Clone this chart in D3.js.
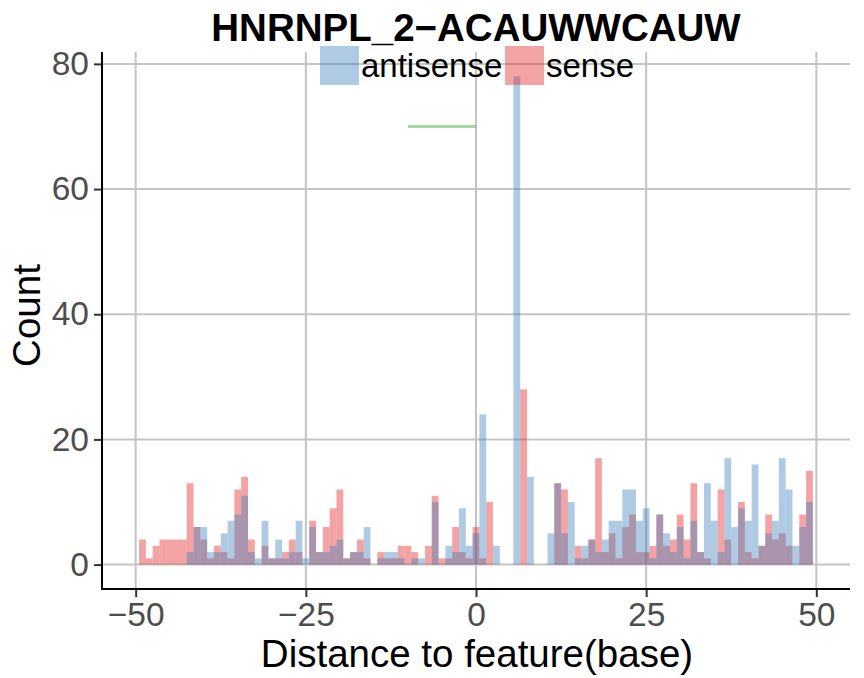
<!DOCTYPE html>
<html>
<head>
<meta charset="utf-8">
<script src="https://cdn.jsdelivr.net/npm/d3@7"></script>
<style>
  html, body { margin: 0; padding: 0; background: #ffffff; }
  svg { display: block; font-family: "Liberation Sans", Arial, Helvetica, sans-serif; }
</style>
</head>
<body>
<svg id="chart" width="864" height="678"></svg>
<script>
// ---- data ----
const titleText = "HNRNPL_2\u2212ACAUWWCAUW";
const xTitle = "Distance to feature(base)";
const yTitle = "Count";
const seriesNames = ["antisense", "sense"];
const positions = d3.range(-49, 50); // bin centres (1 base bins)
const senseCounts = [
  4, 1, 3, 4, 4, 4, 4, 13, 6, 4,      // -49..-40
  1, 3, 2, 1, 12, 14, 4, 0, 3, 1,     // -39..-30
  1, 2, 4, 2, 0, 7, 2, 6, 9, 12,      // -29..-20
  1, 2, 4, 1, 0, 2, 1, 1, 3, 3,       // -19..-10
  2, 0, 3, 11, 1, 1, 6, 2, 1,         // -9..-1
  6,                                  // 0
  1, 10, 0, 0, 0, 0, 28, 0, 0, 0,     // 1..10
  0, 13, 12, 0, 3, 1, 4, 17, 2, 5,    // 11..20
  1, 6, 8, 2, 2, 3, 8, 3, 4, 8,       // 21..30
  4, 13, 2, 1, 0, 12, 4, 0, 10, 2,    // 31..40
  1, 3, 8, 4, 5, 3, 0, 8, 15          // 41..49
];
const antisenseCounts = [
  0, 0, 0, 0, 0, 0, 0, 2, 6, 6,       // -49..-40
  2, 2, 5, 7, 8, 11, 2, 1, 7, 1,      // -39..-30
  4, 1, 2, 7, 1, 6, 2, 2, 3, 4,       // -29..-20
  1, 2, 2, 6, 0, 1, 2, 2, 1, 0,       // -19..-10
  1, 1, 0, 10, 0, 3, 2, 9, 3,         // -9..-1
  5,                                  // 0
  24, 0, 3, 0, 0, 78, 0, 14, 0, 0,    // 1..10
  5, 13, 5, 10, 1, 3, 4, 2, 4, 7,     // 11..20
  7, 12, 12, 7, 9, 1, 8, 5, 2, 6,     // 21..30
  1, 7, 2, 13, 7, 2, 17, 6, 9, 7,     // 31..40
  16, 3, 5, 7, 17, 12, 3, 6, 10       // 41..49
];
const segmentX = [-10, 0];
const segmentY = 70;
const xTicks = [-50, -25, 0, 25, 50];
const yTicks = [0, 20, 40, 60, 80];

// ---- layout ----
const svg = d3.select("#chart");
const panel = { left: 102, right: 850, top: 52, bottom: 589 };

const x = d3.scaleLinear().domain([-54.95, 54.95]).range([panel.left, panel.right]);
const y = d3.scaleLinear().domain([-3.9, 81.9]).range([panel.bottom, panel.top]);

const colors = { antisense: "#377EB8", sense: "#E41A1C" };
const gridColor = "#c4c4c4";
const FONT = "Liberation Sans, Arial, sans-serif";

// grid
const grid = svg.append("g");
grid.selectAll("line.gx").data(xTicks).join("line")
  .attr("x1", d => x(d)).attr("x2", d => x(d))
  .attr("y1", panel.top).attr("y2", panel.bottom)
  .attr("stroke", gridColor).attr("stroke-width", 2);
grid.selectAll("line.gy").data(yTicks).join("line")
  .attr("y1", d => y(d)).attr("y2", d => y(d))
  .attr("x1", panel.left).attr("x2", panel.right)
  .attr("stroke", gridColor).attr("stroke-width", 2);

// bars: sense first, antisense on top
function drawBars(counts, color) {
  const data = positions.map((p, i) => ({ p, v: counts[i] })).filter(d => d.v > 0);
  svg.append("g").selectAll("rect").data(data).join("rect")
    .attr("x", d => x(d.p - 0.5))
    .attr("width", d => x(d.p + 0.5) - x(d.p - 0.5))
    .attr("y", d => y(d.v))
    .attr("height", d => y(0) - y(d.v))
    .attr("fill", color)
    .attr("fill-opacity", 0.4);
}
drawBars(senseCounts, colors.sense);
drawBars(antisenseCounts, colors.antisense);

// green segment
svg.append("line")
  .attr("x1", x(segmentX[0])).attr("x2", x(segmentX[1]))
  .attr("y1", y(segmentY)).attr("y2", y(segmentY))
  .attr("stroke", "#4DAF4A").attr("stroke-opacity", 0.5).attr("stroke-width", 2.8);

// axes
const xAxis = d3.axisBottom(x).tickValues(xTicks).tickSize(8).tickPadding(5)
  .tickFormat(d => d < 0 ? "\u2212" + Math.abs(d) : d);
const gx = svg.append("g").attr("transform", `translate(0,${panel.bottom})`).call(xAxis);
gx.select(".domain").remove();
gx.append("line").attr("x1", panel.left - 1).attr("x2", panel.right).attr("y1", 0).attr("y2", 0)
  .attr("stroke", "#000").attr("stroke-width", 2);
gx.selectAll(".tick line").attr("stroke", "#333").attr("stroke-width", 2);
gx.selectAll(".tick text").attr("fill", "#4d4d4d").attr("font-size", 33.5)
  .attr("font-family", FONT);

const yAxis = d3.axisLeft(y).tickValues(yTicks).tickSize(8).tickPadding(5);
const gy = svg.append("g").attr("transform", `translate(${panel.left},0)`).call(yAxis);
gy.select(".domain").remove();
gy.append("line").attr("y1", panel.top).attr("y2", panel.bottom + 1).attr("x1", 0).attr("x2", 0)
  .attr("stroke", "#000").attr("stroke-width", 2);
gy.selectAll(".tick line").attr("stroke", "#333").attr("stroke-width", 2);
gy.selectAll(".tick text").attr("fill", "#4d4d4d").attr("font-size", 33.5)
  .attr("font-family", FONT);

// titles
svg.append("text").attr("x", 476).attr("y", 41).attr("text-anchor", "middle")
  .attr("font-size", 38.5).attr("font-weight", "bold").attr("fill", "#000").text(titleText);
svg.append("text").attr("x", 477).attr("y", 667).attr("text-anchor", "middle")
  .attr("font-size", 38.5).attr("fill", "#000").text(xTitle);
svg.append("text").attr("transform", `translate(40,${(panel.top + panel.bottom) / 2 - 5}) rotate(-90)`)
  .attr("text-anchor", "middle").attr("font-size", 38.5).attr("fill", "#000").text(yTitle);

// legend
const legendItems = [
  { name: seriesNames[0], color: colors.antisense, x: 320 },
  { name: seriesNames[1], color: colors.sense, x: 505 }
];
const lg = svg.append("g");
legendItems.forEach(it => {
  lg.append("rect").attr("x", it.x).attr("y", 46).attr("width", 39).attr("height", 39)
    .attr("fill", it.color).attr("fill-opacity", 0.4);
  lg.append("text").attr("x", it.x + 41).attr("y", 77).attr("font-size", 33)
    .attr("fill", "#000").text(it.name);
});
</script>
</body>
</html>
